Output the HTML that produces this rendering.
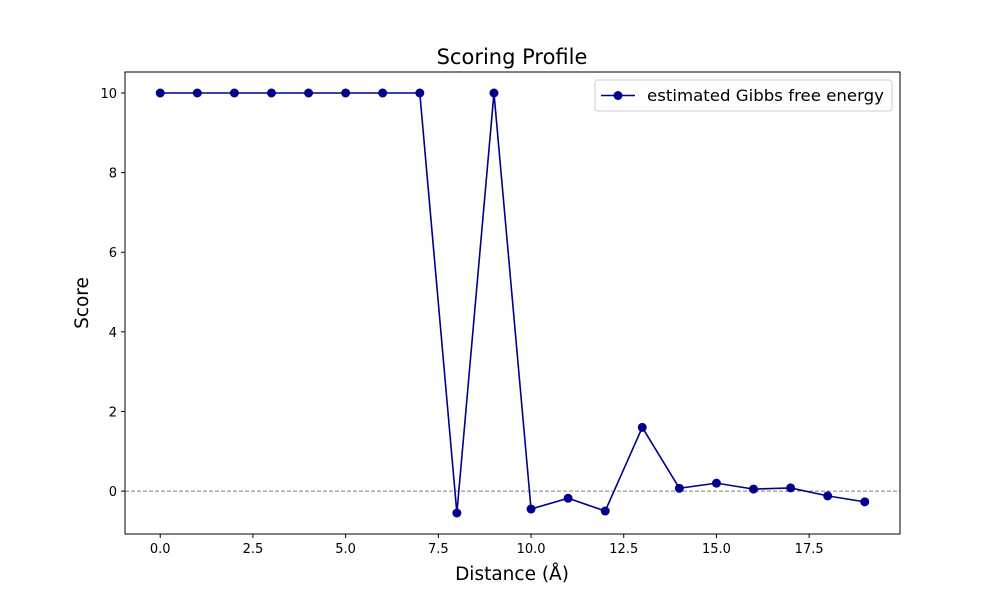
<!DOCTYPE html>
<html><head><meta charset="utf-8"><style>
html,body{margin:0;padding:0;background:#fff;}
svg{display:block;font-family:"DejaVu Sans","Liberation Sans",sans-serif;}
</style></head><body>
<svg id="chart" width="1000" height="600" viewBox="0 0 1000 600" xmlns="http://www.w3.org/2000/svg">
<rect width="1000" height="600" fill="#fff"/>
<text x="512" y="64" text-anchor="middle" font-size="21">Scoring Profile</text>
<g id="plot"></g>
<text x="512" y="580" text-anchor="middle" font-size="18.5">Distance (Å)</text>
<text x="88" y="303" text-anchor="middle" font-size="18.5" transform="rotate(-90 88 303)">Score</text>
</svg>
<script>
const distances = [0,1,2,3,4,5,6,7,8,9,10,11,12,13,14,15,16,17,18,19];
const scores = [10,10,10,10,10,10,10,10,-0.55,10,-0.45,-0.18,-0.5,1.6,0.07,0.2,0.05,0.08,-0.12,-0.27];
const xTicks = [0,2.5,5,7.5,10,12.5,15,17.5];
const xTickLabels = ["0.0","2.5","5.0","7.5","10.0","12.5","15.0","17.5"];
const yTicks = [0,2,4,6,8,10];
const yTickLabels = ["0","2","4","6","8","10"];

const L=125,R=900,T=72,B=534;
const xMin=-0.95,xMax=19.95,yMin=-1.0775,yMax=10.5275;
const sx=v=>L+(v-xMin)/(xMax-xMin)*(R-L);
const sy=v=>B-(v-yMin)/(yMax-yMin)*(B-T);
const NS="http://www.w3.org/2000/svg";
const g=document.getElementById('plot');
function mk(tag,attrs){const e=document.createElementNS(NS,tag);for(const k in attrs)e.setAttribute(k,attrs[k]);g.appendChild(e);return e;}

const zl=mk('line',{x1:L,x2:R,y1:sy(0),y2:sy(0),stroke:'#808080','stroke-width':1,'stroke-dasharray':'4,2'});



xTicks.forEach((t,i)=>{
  const x=sx(t);
  const tk=mk('line',{x1:x,x2:x,y1:B,y2:B+4,stroke:'#000','stroke-width':1});
  
  
  const tx=mk('text',{x:x,y:B+19,'text-anchor':'middle','font-size':13});
  tx.textContent=xTickLabels[i];
  
  
});
yTicks.forEach((t,i)=>{
  const y=sy(t);
  const tk=mk('line',{x1:L-4,x2:L,y1:y,y2:y,stroke:'#000','stroke-width':1});
  
  
  const tx=mk('text',{x:L-8,y:y+5,'text-anchor':'end','font-size':13});
  tx.textContent=yTickLabels[i];
  
  
});

const pts=distances.map((d,i)=>sx(d)+','+sy(scores[i])).join(' ');
const line=mk('polyline',{points:pts,fill:'none',stroke:'#00008b','stroke-width':1.6});


distances.forEach((d,i)=>{
  const c=mk('circle',{cx:sx(d),cy:sy(scores[i]),r:4.5,fill:'#00008b'});
  
  
});

const frame=mk('rect',{x:L,y:T,width:R-L,height:B-T,fill:'none',stroke:'#000','stroke-width':1});



const lg=mk('rect',{x:595,y:80,width:297,height:31,rx:3,fill:'#fff',stroke:'#ccc','stroke-width':1});


const ll=mk('line',{x1:601,x2:635,y1:95.5,y2:95.5,stroke:'#00008b','stroke-width':1.6});


const lc=mk('circle',{cx:618,cy:95.5,r:4.5,fill:'#00008b'});


const lt=mk('text',{x:647,y:101,'font-size':16,textLength:237,lengthAdjust:'spacingAndGlyphs'});
lt.textContent='estimated Gibbs free energy';


</script>
</body></html>
